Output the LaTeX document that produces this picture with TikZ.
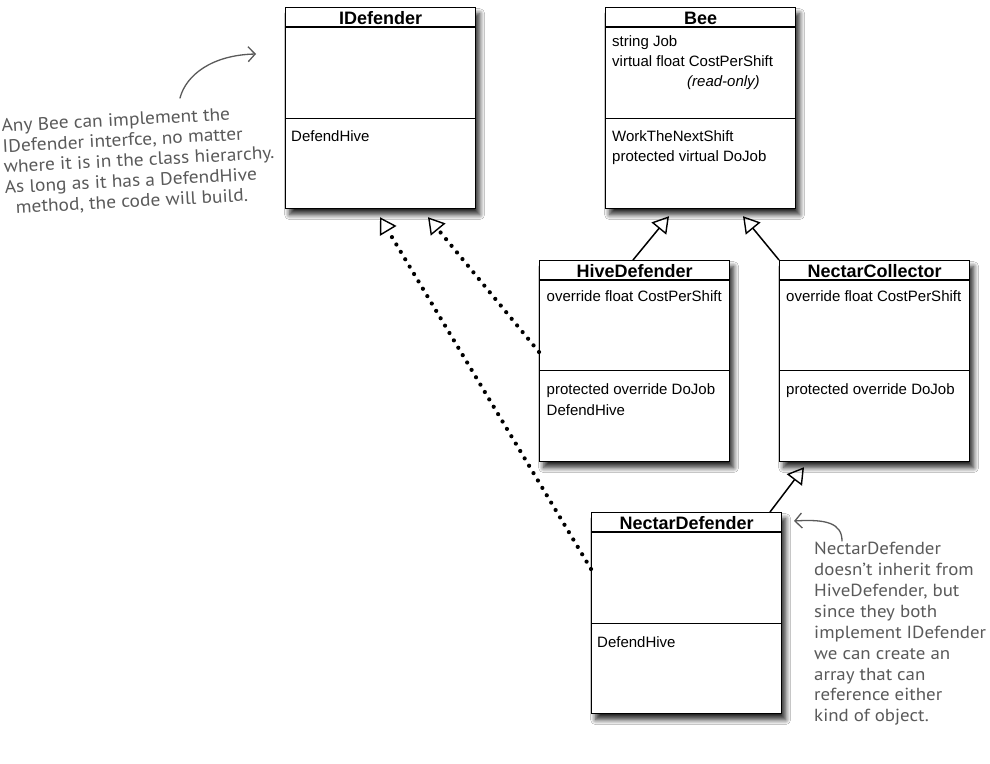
\documentclass[tikz,border=0pt]{standalone}
\usepackage{fontspec}
\setmainfont{Liberation Sans}
\newfontfamily\handfont[FakeStretch=1.08]{PT Sans}
\usetikzlibrary{arrows.meta,shadows.blur,calc}
\definecolor{notegray}{HTML}{5A5A5A}
\begin{document}
\begin{tikzpicture}[x=1pt,y=-1pt,
  classbox/.style={draw=black, line width=1.2pt, fill=white,
    minimum width=190pt, minimum height=201pt, anchor=north west, inner sep=0pt,
    blur shadow={shadow xshift=4pt, shadow yshift=-6pt, shadow blur radius=5pt,
      shadow blur steps=10, shadow opacity=85}},
  titlerule/.style={line width=1.6pt},
  divider/.style={line width=1pt},
  classtitle/.style={font=\bfseries\fontsize{18}{20}\selectfont, anchor=base, inner sep=0pt},
  member/.style={font=\fontsize{15}{18}\selectfont, anchor=base west, inner sep=0pt},
  inherit/.style={line width=1.5pt, -{Triangle[open,length=16pt,width=19pt,line width=1.4pt]}},
  realize/.style={line width=4.2pt, line cap=round, dash pattern=on 0pt off 8.6pt,
    -{Triangle[open,length=16pt,width=19pt,line width=1.4pt]}},
  notetext/.style={text=notegray, align=left, inner sep=0pt},
  notearrow/.style={draw=notegray, line width=1.3pt, line cap=round,
    -{Straight Barb[length=7pt,width=15pt,line width=1.3pt]}}
]
\fill[white] (0,0) rectangle (990,763);
\useasboundingbox (0,0) rectangle (990,763);

% ---------- IDefender ----------
\node[classbox] (idef) at (285,7) {};
\draw[titlerule] ([yshift=-20pt]idef.north west) -- ([yshift=-20pt]idef.north east);
\draw[divider] ([yshift=-111pt]idef.north west) -- ([yshift=-111pt]idef.north east);
\node[classtitle] (idef-t) at ([yshift=-17.5pt]idef.north) {IDefender};
\node[member] (idef-m1) at ([xshift=6pt,yshift=-134pt]idef.north west) {DefendHive};

% ---------- Bee ----------
\node[classbox] (bee) at (605,7) {};
\draw[titlerule] ([yshift=-20pt]bee.north west) -- ([yshift=-20pt]bee.north east);
\draw[divider] ([yshift=-111pt]bee.north west) -- ([yshift=-111pt]bee.north east);
\node[classtitle] (bee-t) at ([yshift=-17.5pt]bee.north) {Bee};
\node[member] (bee-a1) at ([xshift=7pt,yshift=-39pt]bee.north west) {string Job};
\node[member] (bee-a2) at ([xshift=7pt,yshift=-59pt]bee.north west) {virtual float CostPerShift};
\node[member] (bee-a3) at ([xshift=82pt,yshift=-79.5pt]bee.north west) {\itshape(read-only)};
\node[member] (bee-m1) at ([xshift=7pt,yshift=-134pt]bee.north west) {WorkTheNextShift};
\node[member] (bee-m2) at ([xshift=7pt,yshift=-154.5pt]bee.north west) {protected virtual DoJob};

% ---------- HiveDefender ----------
\node[classbox] (hive) at (539,260) {};
\draw[titlerule] ([yshift=-20pt]hive.north west) -- ([yshift=-20pt]hive.north east);
\draw[divider] ([yshift=-110.5pt]hive.north west) -- ([yshift=-110.5pt]hive.north east);
\node[classtitle] (hive-t) at ([yshift=-17.5pt]hive.north) {HiveDefender};
\node[member] (hive-a1) at ([xshift=7.5pt,yshift=-41pt]hive.north west) {override float CostPerShift};
\node[member] (hive-m1) at ([xshift=7.5pt,yshift=-134.5pt]hive.north west) {protected override DoJob};
\node[member] (hive-m2) at ([xshift=7.5pt,yshift=-155pt]hive.north west) {DefendHive};

% ---------- NectarCollector ----------
\node[classbox] (nc) at (779,260) {};
\draw[titlerule] ([yshift=-20pt]nc.north west) -- ([yshift=-20pt]nc.north east);
\draw[divider] ([yshift=-110.5pt]nc.north west) -- ([yshift=-110.5pt]nc.north east);
\node[classtitle] (nc-t) at ([yshift=-17.5pt]nc.north) {NectarCollector};
\node[member] (nc-a1) at ([xshift=7pt,yshift=-41pt]nc.north west) {override float CostPerShift};
\node[member] (nc-m1) at ([xshift=7pt,yshift=-134.5pt]nc.north west) {protected override DoJob};

% ---------- NectarDefender ----------
\node[classbox] (nd) at (591,512) {};
\draw[titlerule] ([yshift=-20pt]nd.north west) -- ([yshift=-20pt]nd.north east);
\draw[divider] ([yshift=-111pt]nd.north west) -- ([yshift=-111pt]nd.north east);
\node[classtitle] (nd-t) at ([yshift=-17.5pt]nd.north) {NectarDefender};
\node[member] (nd-m1) at ([xshift=6pt,yshift=-135pt]nd.north west) {DefendHive};

% ---------- inheritance connectors ----------
\coordinate (hive-top) at ([xshift=94pt]hive.north west);
\coordinate (bee-tipA) at ([xshift=64pt,yshift=-7pt]bee.south west);
\coordinate (bee-tipB) at ([xshift=138pt,yshift=-7pt]bee.south west);
\coordinate (nd-top) at ([xshift=179pt]nd.north west);
\coordinate (nc-tip) at ([xshift=25pt,yshift=-5pt]nc.south west);
\draw[inherit] (hive-top) -- (bee-tipA);
\draw[inherit] (nc.north west) -- (bee-tipB);
\draw[inherit] (nd-top) -- (nc-tip);

% ---------- interface realizations ----------
\coordinate (hive-left) at ([yshift=-92pt]hive.north west);
\coordinate (nd-left) at ([yshift=-57pt]nd.north west);
\coordinate (idef-tipA) at ([xshift=143pt,yshift=-8pt]idef.south west);
\coordinate (idef-tipB) at ([xshift=95pt,yshift=-8pt]idef.south west);
\draw[realize] (hive-left) -- (idef-tipA);
\draw[realize] (nd-left) -- (idef-tipB);

% ---------- annotations ----------
\node[notetext, font=\handfont\fontsize{18}{20.5}\selectfont, anchor=north west, rotate=3]
  (note1) at (1,119) {Any Bee can implement the\\IDefender interfce, no matter\\where it is in the class hierarchy.\\As long as it has a DefendHive\\\hspace*{10pt}method, the code will build.};
\coordinate (n1s) at (180,98);
\coordinate (n1e) at (256,54);
\draw[notearrow] (n1s) .. controls (186,75) and (212,55) .. (n1e);

\node[notetext, font=\handfont\fontsize{17.5}{20.9}\selectfont, anchor=north west]
  (note2) at (814,542) {NectarDefender\\doesn’t inherit from\\HiveDefender, but\\since they both\\implement IDefender\\we can create an\\array that can\\reference either\\kind of object.};
\coordinate (n2s) at (842,541);
\coordinate (n2e) at (794,521);
\draw[notearrow] (n2s) .. controls (842,523) and (826,519) .. (n2e);
\end{tikzpicture}
\end{document}
